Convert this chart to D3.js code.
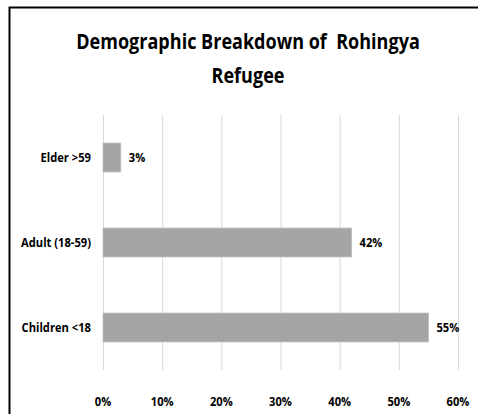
<!DOCTYPE html>
<html>
<head>
<meta charset="utf-8">
<script src="https://cdn.jsdelivr.net/npm/d3@7"></script>
<style>
  html, body { margin: 0; padding: 0; background: #fff; }
  svg { display: block; }
  text { font-family: "Open Sans", Roboto, sans-serif; fill: #000; }
</style>
</head>
<body>
<svg id="chart" width="478" height="414"></svg>
<script>
// Share of Rohingya refugees by age group
const categories = ["Elder >59", "Adult (18-59)", "Children <18"];
const shares = [3, 42, 55];
const tickValues = [0, 10, 20, 30, 40, 50, 60];
const titleLines = ["Demographic Breakdown of\u00a0 Rohingya", "Refugee"];

const svg = d3.select("#chart");
const W = 478, H = 414;
const narrow = 0.86; // horizontal squeeze for a condensed look

// frame (top and left edges)
svg.append("path")
  .attr("d", `M9.5,${H} V7.5 H${W}`)
  .attr("fill", "none").attr("stroke", "#000").attr("stroke-width", 2);

const x = d3.scaleLinear().domain([0, 60]).range([103, 458]);
const y = d3.scaleBand().domain(categories).range([115, 370])
  .paddingInner(0.66).paddingOuter(0.33);

// places a horizontally condensed label
function label(g, tx, ty, anchor, size, weight) {
  return g.append("text")
    .attr("transform", `translate(${tx},${ty}) scale(${narrow},1)`)
    .attr("text-anchor", anchor)
    .attr("dy", "0.35em")
    .attr("font-size", size).attr("font-weight", weight);
}

// vertical gridlines
svg.append("g").selectAll("line").data(tickValues).join("line")
  .attr("x1", d => x(d) + 0.5).attr("x2", d => x(d) + 0.5)
  .attr("y1", 115).attr("y2", 370)
  .attr("stroke", "#d9d9d9").attr("stroke-width", 1);

// bars
svg.append("g").selectAll("rect").data(shares).join("rect")
  .attr("x", x(0))
  .attr("y", (d, i) => y(categories[i]))
  .attr("width", d => x(d) - x(0))
  .attr("height", y.bandwidth())
  .attr("fill", "#a5a5a5")
  .attr("stroke", "#bcbcbc").attr("stroke-width", 0.8);

// value labels
const gv = svg.append("g");
shares.forEach((d, i) => {
  label(gv, x(d) + 8, y(categories[i]) + y.bandwidth() / 2, "start", 13, "bold")
    .text(d + "%");
});

// category labels
const gc = svg.append("g");
categories.forEach(c => {
  label(gc, x(0) - 12, y(c) + y.bandwidth() / 2, "end", 13, "bold").text(c);
});

// value axis tick labels
const gt = svg.append("g");
tickValues.forEach(t => {
  label(gt, x(t), 401, "middle", 13, "bold").text(t + "%");
});

// title
const gTitle = svg.append("g");
titleLines.forEach((line, i) => {
  gTitle.append("text")
    .attr("transform", `translate(248,${49 + i * 34}) scale(0.82,1)`)
    .attr("text-anchor", "middle")
    .attr("font-size", 22).attr("font-weight", "bold")
    .text(line);
});
</script>
</body>
</html>
